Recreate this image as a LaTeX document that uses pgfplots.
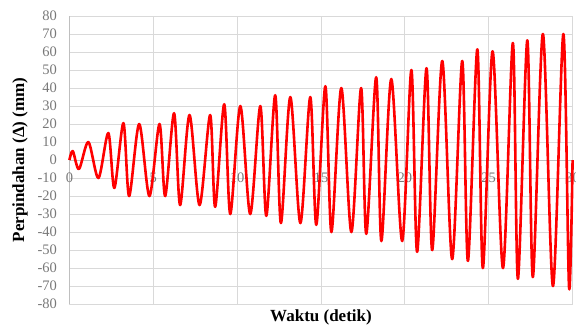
\documentclass[border=0pt]{standalone}
\usepackage{fontspec}
\setmainfont{Liberation Serif}
\usepackage{pgfplots}
\pgfplotsset{compat=1.18}
\definecolor{gridc}{RGB}{217,217,217}
\definecolor{tickc}{RGB}{120,120,120}
\definecolor{axc}{RGB}{191,191,191}
\begin{document}
\begin{tikzpicture}
\begin{axis}[
  scale only axis,
  width=503pt, height=288pt,
  xmin=0, xmax=30, ymin=-80, ymax=80,
  axis x line=middle, axis y line=left,
  x axis line style={-, draw=axc, line width=1pt},
  y axis line style={-, draw=axc, line width=1pt},
  hide obscured x ticks=false, hide obscured y ticks=false,
  xtick={0,5,...,30}, ytick={-80,-70,...,80},
  major tick length=0pt,
  grid=major,
  major grid style={draw=gridc, line width=0.9pt},
  /pgf/number format/assume math mode=true,
  tick label style={font=\fontsize{14.5}{16}\selectfont, text=tickc},
  xticklabel style={anchor=north, yshift=-9pt},
  yticklabel style={anchor=east, xshift=-9pt},
  xlabel={Waktu (detik)},
  ylabel={Perpindahan (Δ)  (mm)},
  every axis x label/.style={at={(rel axis cs:0.5,0)}, anchor=north, yshift=-2pt, font=\fontsize{17}{19}\selectfont\bfseries},
  every axis y label/.style={at={(ticklabel cs:0.5)}, rotate=90, anchor=near ticklabel, yshift=3pt, font=\fontsize{17}{19}\selectfont\bfseries},
  clip=false,
]
\addplot[red, line width=2.6pt, smooth, line join=round] coordinates {
(0,0) (0.2,5) (0.57,-5) (1.13,10) (1.73,-10) (2.32,15) (2.68,-15.5)
(3.22,20.5) (3.56,-20) (4.16,20) (4.77,-20) (5.37,20) (5.71,-20)
(6.24,26) (6.60,-25) (7.16,25) (7.76,-25) (8.39,25) (8.69,-26)
(9.23,31) (9.59,-30) (10.19,30) (10.78,-30) (11.38,30) (11.74,-31)
(12.27,36) (12.61,-35) (13.17,35) (13.77,-35) (14.36,35) (14.72,-36)
(15.26,41) (15.62,-40) (16.21,40) (16.81,-40) (17.39,40) (17.70,-41)
(18.29,46) (18.60,-45) (19.19,45) (19.84,-45) (20.39,50) (20.73,-51)
(21.29,51) (21.63,-50) (22.23,55) (22.82,-55) (23.42,55) (23.76,-56)
(24.32,61.5) (24.65,-60) (25.23,60.4) (25.85,-60) (26.44,65) (26.74,-66)
(27.30,66.5) (27.63,-65) (28.23,70) (28.83,-70) (29.45,70) (29.79,-71)
(30,0)
};
\coordinate (sw) at (rel axis cs:0,0);
\coordinate (ne) at (rel axis cs:1,1);
\end{axis}
\pgfresetboundingbox
\path[use as bounding box] ([shift={(-69.4pt,-24pt)}]sw) rectangle ([shift={(3.4pt,16pt)}]ne);
\end{tikzpicture}
\end{document}
